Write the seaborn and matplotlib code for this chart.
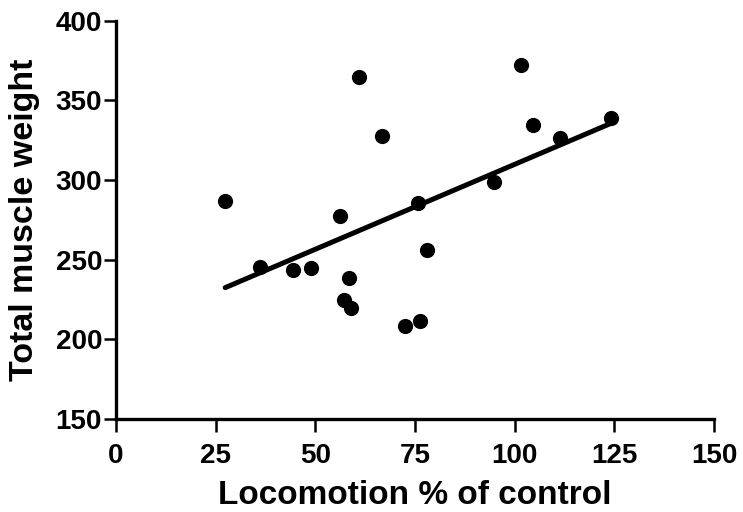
import pandas as pd
import matplotlib
matplotlib.use("Agg")
import matplotlib.pyplot as plt
import seaborn as sns

# values
locomotion = [27.4, 36.2, 44.3, 48.9, 56.2, 57.1, 58.5, 59.0, 61.0, 66.7,
              72.5, 75.7, 76.3, 77.9, 94.8, 101.7, 104.6, 111.5, 124.2]
muscle_weight = [286.6, 245.4, 243.8, 245.0, 277.2, 224.6, 238.6, 219.8, 364.9, 327.7,
                 208.1, 285.3, 211.4, 256.3, 298.7, 372.0, 334.8, 326.3, 338.8]
x_ticks = [0, 25, 50, 75, 100, 125, 150]
y_ticks = [150, 200, 250, 300, 350, 400]

df = pd.DataFrame({"locomotion": locomotion, "weight": muscle_weight})

sns.set_style("ticks")
plt.rcParams["font.family"] = ["Liberation Sans", "DejaVu Sans"]
plt.rcParams["font.weight"] = "bold"

fig = plt.figure(figsize=(7.43, 5.12), dpi=100)
ax = fig.add_axes([0.1561, 0.1816, 0.8048, 0.7780])

sns.regplot(
    data=df, x="locomotion", y="weight", ax=ax, ci=None, color="black",
    scatter_kws={"s": 120, "alpha": 1, "linewidths": 0},
    line_kws={"lw": 3.6, "solid_capstyle": "round"},
)

ax.set_xlim(0, 150)
ax.set_ylim(150, 400)
ax.set_xticks(x_ticks)
ax.set_yticks(y_ticks)
for s in ["top", "right"]:
    ax.spines[s].set_visible(False)
for s in ["left", "bottom"]:
    ax.spines[s].set_linewidth(2.4)
    ax.spines[s].set_color("black")
ax.tick_params(width=1.8, length=9, labelsize=20, colors="black")
ax.tick_params(axis="x", pad=8)
ax.tick_params(axis="y", pad=1)
for lab in ax.get_xticklabels() + ax.get_yticklabels():
    lab.set_fontweight("bold")

ax.set_xlabel("Locomotion % of control", fontsize=24, fontweight="bold",
              color="black", labelpad=8)
ax.set_ylabel("Total muscle weight", fontsize=24.5, fontweight="bold",
              color="black", labelpad=11)

plt.savefig("out.png", dpi=100)
